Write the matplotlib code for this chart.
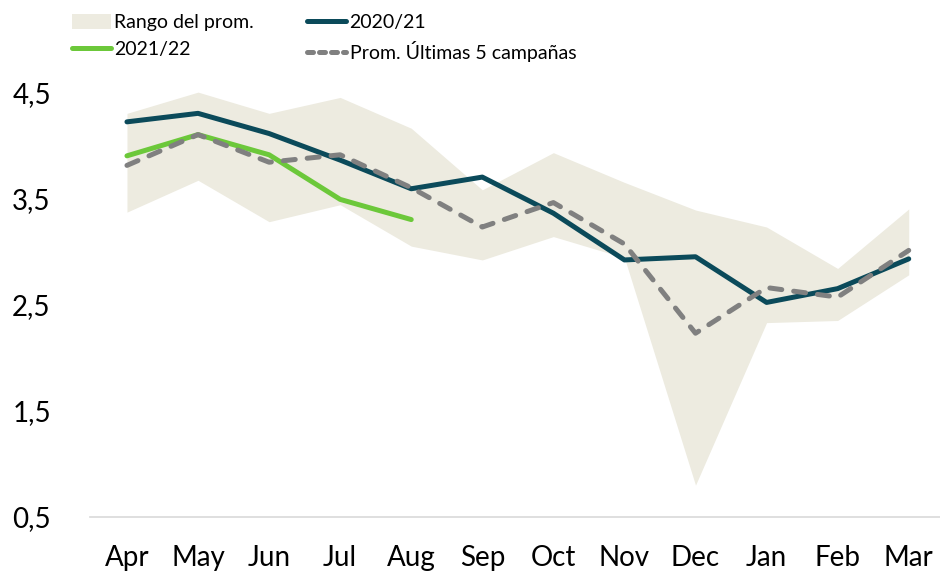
import matplotlib
matplotlib.use("Agg")
import matplotlib.pyplot as plt
from matplotlib.patches import Patch
from matplotlib.lines import Line2D

plt.rcParams['font.family'] = ['Lato', 'DejaVu Sans']

months = ["Apr", "May", "Jun", "Jul", "Aug", "Sep", "Oct", "Nov", "Dec", "Jan", "Feb", "Mar"]
range_high = [4.30, 4.50, 4.30, 4.45, 4.16, 3.58, 3.93, 3.65, 3.39, 3.23, 2.84, 3.40]
range_low = [3.37, 3.67, 3.28, 3.44, 3.05, 2.92, 3.14, 2.94, 0.80, 2.33, 2.35, 2.78]
s2020 = [4.22, 4.30, 4.11, 3.86, 3.59, 3.70, 3.36, 2.92, 2.95, 2.52, 2.65, 2.93]
s2021 = [3.90, 4.10, 3.91, 3.49, 3.30]
avg5 = [3.81, 4.10, 3.84, 3.91, 3.60, 3.23, 3.46, 3.07, 2.23, 2.66, 2.57, 3.01]
yticks = [0.5, 1.5, 2.5, 3.5, 4.5]
ytick_labels = ["0,5", "1,5", "2,5", "3,5", "4,5"]

c_fill = "#edebe0"
c_dark = "#0b4a5a"
c_green = "#6cc83a"
c_gray = "#808080"

fig = plt.figure(figsize=(9.4, 5.75), dpi=100)
ax = fig.add_axes([90/940, 1-517/575, 850/940, (517-39)/575])

x = list(range(len(months)))
ax.fill_between(x, range_low, range_high, color=c_fill, lw=0, zorder=1)
ax.plot(x, s2020, color=c_dark, lw=3.6, solid_capstyle='round', solid_joinstyle='round', zorder=3)
ax.plot(x[:len(s2021)], s2021, color=c_green, lw=3.6, solid_capstyle='round', solid_joinstyle='round', zorder=4)
ax.plot(x, avg5, color=c_gray, lw=3.6, dashes=(2.4, 2.4), dash_capstyle='round', zorder=5)

ax.set_xlim(-0.52, 11.44)
ax.set_ylim(0.5, 5.0)
ax.set_xticks(x)
ax.set_xticklabels(months, fontsize=20)
ax.set_yticks(yticks)
ax.set_yticklabels(ytick_labels, fontsize=20, ha='left')
ax.tick_params(axis='y', length=0, pad=56)
ax.tick_params(axis='x', length=0, pad=20)
for s in ['top', 'right', 'left']:
    ax.spines[s].set_visible(False)
ax.spines['bottom'].set_color('#d9d9d9')
ax.spines['bottom'].set_linewidth(1.2)

h_range = Patch(facecolor=c_fill, edgecolor='none')
h_green = Line2D([], [], color=c_green, lw=3.6, solid_capstyle='round')
h_dark = Line2D([], [], color=c_dark, lw=3.6, solid_capstyle='round')
h_gray = Line2D([], [], color=c_gray, lw=3.6, dashes=(1.2, 1.2), dash_capstyle='round')

leg_kw = dict(loc='upper left', frameon=False, fontsize=14, handlelength=2.0,
              handleheight=0.8, handletextpad=0.2, labelspacing=0.5, borderpad=0)
leg1 = fig.legend([h_range, h_green], ["Rango del prom.", "2021/22"],
                  bbox_to_anchor=(62/940, 1-4/575), **leg_kw)
leg2 = fig.legend([h_dark, h_gray], ["2020/21", "Prom. Últimas 5 campañas"],
                  bbox_to_anchor=(297/940, 1-4/575), **leg_kw)

fig.savefig("out.png", dpi=100)
